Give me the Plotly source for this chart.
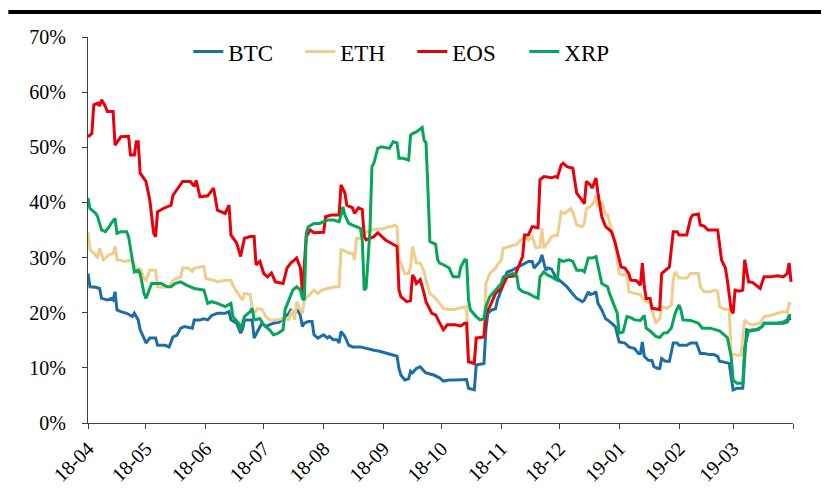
import pandas as pd
import plotly.graph_objects as go

# ---------------- data (days since 2018-04-01, volatility in %) ----------------
btc_days = [0,1,4,6,7,10,12,13,14,15,17,20,23,24,26,27,29,30,32,35,36,40,42,44,46,48,50,54,55,58,60,62,64,67,71,73,74,77,79,80,81,85,86,88,90,92,96,99,101,104,105,107,109,110,111,112,114,116,117,119,122,124,125,127,129,130,131,133,135,137,141,144,148,151,155,158,160,161,162,164,166,167,168,170,172,174,175,179,182,184,187,190,193,196,197,200,201,203,205,206,207,209,211,212,214,216,217,219,223,225,228,230,231,234,235,237,238,240,242,244,245,248,250,253,256,257,259,260,262,263,264,266,268,269,271,273,275,278,280,283,285,286,287,288,290,292,293,295,296,297,299,301,303,305,306,310,312,315,317,319,322,324,326,327,331,332,333,334,336,339,340,341,343,346,349,350,353,357,360,362,363,364]
btc_vals = [27.1,24.7,24.6,24.4,22.6,22.3,22.6,22.3,23.8,20.5,20.2,19.9,19.3,19.9,18.7,16.9,15.4,14.5,15.4,15.4,14.1,14.1,13.8,15.6,15.9,17.2,17.5,17.2,18.7,18.7,18.9,18.7,19.5,19.9,19.9,20.2,18.7,18.1,16.3,17.0,18.7,18.7,15.4,16.9,18.1,17.5,18.1,18.3,18.9,19.9,20.5,19.9,20.5,19.3,17.5,18.1,18.4,18.4,16.0,15.4,16.0,15.4,15.7,15.1,15.1,14.5,16.6,15.7,14.1,13.8,13.8,13.5,13.2,13.0,12.6,12.4,12.1,9.9,8.7,7.8,8.0,9.4,9.1,9.9,10.2,9.4,9.1,8.7,8.2,7.6,7.8,7.8,7.8,7.9,6.3,6.0,10.5,10.6,10.8,16.9,19.9,20.5,20.7,22.3,24.1,26.5,27.4,27.6,28.3,28.7,29.3,29.3,28.1,29.3,30.5,27.7,28.1,27.9,26.5,25.9,25.6,24.7,23.8,22.6,22.0,22.3,23.8,23.3,23.5,23.8,21.7,20.5,18.9,18.7,18.1,17.5,14.7,14.5,13.8,13.5,12.6,12.6,14.7,12.1,11.4,11.3,10.2,9.9,9.9,11.7,11.2,11.2,14.5,14.5,14.1,14.1,14.5,14.5,12.6,12.6,12.4,12.4,12.1,11.2,10.9,10.8,8.4,6.0,6.3,6.3,12.0,16.9,16.7,16.9,17.5,18.1,18.1,18.1,18.1,18.3,18.9,19.0]

eth_days = [0,1,3,5,6,8,11,13,14,15,19,23,24,26,27,29,30,32,35,36,38,42,44,48,49,52,54,55,60,61,65,67,71,74,75,77,80,81,84,85,86,88,90,92,94,98,100,104,105,106,107,108,109,111,112,115,117,119,121,124,128,130,131,133,135,137,138,139,141,143,144,147,149,153,155,157,159,160,161,162,164,166,167,168,169,170,172,174,175,177,180,182,184,187,190,192,195,196,197,200,201,205,206,208,211,212,214,215,217,219,222,224,226,228,230,232,234,235,236,238,240,242,243,245,247,250,251,253,256,257,258,260,262,263,264,266,268,269,271,273,275,277,279,280,283,286,288,291,293,294,296,297,300,302,303,304,306,310,312,316,317,319,322,325,326,327,330,332,333,336,338,339,340,342,344,348,350,353,357,360,362,363,364]
eth_vals = [34.7,31.4,30.8,29.9,31.7,29.6,30.5,30.8,32.0,29.6,29.3,29.6,28.6,27.1,28.1,26.2,25.9,27.7,27.7,24.7,24.6,24.7,25.9,26.5,28.1,28.1,27.5,28.1,28.4,26.2,25.9,25.6,25.9,25.9,25.0,23.8,22.3,23.5,23.3,20.8,19.9,20.8,20.6,19.3,18.7,18.7,18.9,18.8,19.9,20.5,18.7,22.0,21.1,19.9,22.3,23.5,24.1,23.5,24.1,24.4,24.7,24.7,31.4,31.2,30.8,30.8,29.6,33.5,33.5,34.1,34.7,35.0,35.2,35.2,35.6,35.6,35.9,35.6,29.6,29.0,27.1,27.1,28.3,32.0,30.2,29.0,29.0,27.5,25.9,23.5,22.6,21.7,20.8,20.6,20.6,20.8,21.1,21.1,11.3,11.0,15.5,15.7,25.3,27.1,28.1,28.7,29.6,31.7,31.9,32.1,32.4,33.2,33.8,33.2,33.8,31.7,31.9,35.3,31.7,32.7,33.8,34.1,33.8,38.3,38.0,38.9,38.3,35.9,35.6,36.2,38.9,39.2,40.1,41.3,39.2,40.1,37.7,37.7,35.3,32.6,27.1,26.8,27.1,23.8,23.5,23.3,22.3,21.7,19.3,18.1,18.9,21.1,20.8,21.4,25.9,27.4,26.3,26.3,27.1,27.1,24.7,23.8,23.8,24.1,23.8,21.1,20.6,20.6,12.6,12.3,12.3,15.7,18.7,18.0,17.8,18.1,19.3,19.5,19.9,20.2,20.0,21.7,21.5]

eos_days = [0,2,3,5,6,7,9,10,13,14,17,21,22,24,25,26,27,30,32,34,35,36,39,43,44,46,49,53,55,56,58,62,65,67,71,73,74,77,79,81,84,86,87,89,91,93,95,97,101,103,105,108,110,111,113,115,117,122,123,126,130,131,133,134,137,138,140,142,143,144,148,150,154,157,160,161,162,165,167,168,169,170,172,174,175,178,180,182,184,186,190,193,195,196,197,200,201,205,206,208,211,214,217,221,223,225,226,228,230,233,234,236,240,242,243,245,246,248,251,253,255,257,258,260,261,263,264,266,268,271,273,276,278,280,281,284,286,287,288,289,291,292,296,297,299,301,303,305,306,310,312,313,316,317,319,321,326,328,330,331,333,334,335,337,339,340,342,344,348,350,353,357,360,362,363,364]
eos_vals = [51.9,52.5,57.7,58.0,57.5,58.6,57.4,56.5,56.5,50.4,51.9,52.0,48.6,48.6,51.0,51.0,45.3,43.8,40.4,34.4,33.8,38.3,38.9,39.5,41.3,42.3,43.8,43.8,42.9,44.0,41.0,41.2,42.6,38.6,38.0,39.5,34.1,32.6,30.2,33.5,33.8,33.8,28.7,29.3,27.1,26.5,27.2,25.6,25.3,28.1,29.0,29.9,28.1,23.5,33.8,35.0,34.5,34.6,37.4,37.7,37.7,43.2,41.7,39.5,39.0,38.0,39.0,38.7,33.8,33.2,33.8,34.5,33.2,32.6,32.0,24.1,22.9,22.0,22.2,26.8,26.3,25.3,26.0,23.5,22.0,19.9,19.6,18.2,16.9,17.8,17.8,17.6,18.1,18.1,11.1,10.8,15.4,15.6,19.9,21.1,23.5,24.4,26.5,26.7,28.3,30.2,34.1,34.1,35.6,35.4,44.1,44.7,44.5,44.7,44.5,46.8,47.1,46.5,46.2,41.7,40.8,39.8,43.8,43.2,42.6,44.4,41.7,37.4,35.6,34.7,32.6,28.3,28.1,27.1,25.9,25.8,25.0,29.0,24.8,22.6,22.6,20.8,20.6,27.1,27.7,28.3,34.7,34.7,34.1,34.1,37.1,37.7,37.9,35.9,35.7,35.0,35.0,29.6,28.1,25.9,20.5,19.9,24.1,23.9,24.1,29.6,25.6,25.5,24.4,26.5,26.5,26.7,26.5,27.1,29.0,25.6]

xrp_days = [0,1,4,5,7,9,11,12,14,15,17,20,21,23,24,26,27,29,30,31,33,38,41,43,45,48,51,55,60,62,64,67,71,74,75,78,79,81,84,85,86,89,91,94,96,98,101,102,105,106,108,110,111,112,113,114,117,120,122,124,127,130,131,132,133,135,137,141,142,143,144,145,146,147,148,150,152,156,158,160,161,163,166,167,168,170,172,173,174,175,176,177,180,181,182,184,187,189,192,193,195,196,197,198,201,203,205,206,208,211,212,214,215,217,220,222,223,225,228,231,233,234,236,238,240,243,244,246,249,251,253,256,257,259,261,263,265,266,269,270,272,274,275,277,279,281,283,286,288,289,291,294,296,298,300,302,304,306,307,308,312,316,318,322,327,331,333,334,336,339,340,342,344,347,349,350,353,357,360,362,363,364]
xrp_vals = [40.8,38.9,38.0,37.4,35.0,34.7,35.6,36.2,37.1,34.4,34.7,34.7,33.8,30.0,27.4,27.7,27.1,23.5,22.6,23.5,25.3,25.3,24.7,24.7,25.3,25.6,25.0,24.4,24.1,21.7,22.0,21.7,21.1,21.7,19.3,18.1,16.9,19.3,20.2,20.8,18.7,18.9,17.8,16.9,16.0,16.2,16.9,20.5,23.5,24.1,24.7,24.1,22.6,22.3,34.4,35.6,36.2,36.2,36.5,36.8,36.8,36.5,37.7,39.2,37.7,36.2,35.9,35.3,33.2,24.1,24.5,29.0,35.0,46.5,47.1,49.8,50.1,49.8,51.0,50.8,48.0,48.0,47.7,52.2,52.5,52.8,53.4,53.6,51.3,50.8,42.3,32.9,32.4,29.6,29.0,28.7,28.1,26.5,26.5,28.3,29.6,29.5,22.3,20.5,19.3,18.7,18.9,21.1,22.9,24.1,24.7,25.3,26.5,26.7,27.1,26.7,24.4,23.8,23.5,22.9,22.6,26.5,27.4,26.8,26.5,25.9,29.6,29.3,29.6,29.3,27.7,27.7,27.4,29.9,29.9,30.2,26.5,25.3,24.7,23.5,21.7,19.9,16.3,16.5,19.3,19.1,18.7,18.6,19.5,17.2,16.7,15.7,15.5,16.3,16.4,17.2,19.9,21.4,20.5,18.7,18.6,18.1,17.2,17.2,16.7,15.5,12.0,7.8,7.2,7.2,13.8,16.7,16.9,16.9,17.5,18.1,18.1,18.1,18.3,18.7,19.5,19.5]

start_date = "2018-04-01"
tick_dates = ["2018-04-01", "2018-05-01", "2018-06-01", "2018-07-01", "2018-08-01", "2018-09-01",
              "2018-10-01", "2018-11-01", "2018-12-01", "2019-01-01", "2019-02-01", "2019-03-01", "2019-04-01"]
tick_labels = ["18-04", "18-05", "18-06", "18-07", "18-08", "18-09",
               "18-10", "18-11", "18-12", "19-01", "19-02", "19-03", ""]
y_ticks = [0, 0.1, 0.2, 0.3, 0.4, 0.5, 0.6, 0.7]
y_labels = ["0%", "10%", "20%", "30%", "40%", "50%", "60%", "70%"]

series = [
    ("BTC", btc_days, btc_vals, "#1C6EA4"),
    ("ETH", eth_days, eth_vals, "#EFCE8C"),
    ("EOS", eos_days, eos_vals, "#E8000B"),
    ("XRP", xrp_days, xrp_vals, "#06A65A"),
]

base = pd.Timestamp(start_date)
FONT = "Liberation Serif"

fig = go.Figure()
for name, days, vals, color in series:
    x = [base + pd.Timedelta(days=d) for d in days]
    y = [v / 100 for v in vals]
    fig.add_trace(go.Scatter(x=x, y=y, mode="lines", name=name,
                             line=dict(color=color, width=3)))

# the page body has an 8px margin, so the figure is sized/offset to compensate
fig.update_layout(
    width=821, height=487,
    margin=dict(l=80, r=36, t=29, b=72, autoexpand=False),
    paper_bgcolor="white", plot_bgcolor="white",
    font=dict(family=FONT, color="black", size=20),
    showlegend=True,
    legend=dict(orientation="h", x=0.46, y=0.962, xanchor="center", yanchor="middle",
                font=dict(family=FONT, size=23, color="black"),
                bgcolor="rgba(0,0,0,0)", itemwidth=30,
                entrywidth=67, entrywidthmode="pixels"),
    shapes=[dict(type="line", xref="paper", yref="paper", x0=-0.113, x1=1.06,
                 y0=1.065, y1=1.065, line=dict(color="black", width=4))],
)
fig.update_xaxes(
    type="date", range=[tick_dates[0], tick_dates[-1]], automargin=False,
    tickmode="array", tickvals=tick_dates, ticktext=tick_labels,
    tickangle=-45, ticks="outside", ticklen=5, tickwidth=1, tickcolor="#404040",
    showline=True, linecolor="#404040", linewidth=1, showgrid=False, zeroline=False,
    tickfont=dict(family=FONT, size=20, color="black"),
)
fig.update_yaxes(
    range=[0, 0.7], tickmode="array", tickvals=y_ticks, ticktext=y_labels, automargin=False,
    ticks="outside", ticklen=5, tickwidth=1, tickcolor="#404040",
    showline=True, linecolor="#404040", linewidth=1, showgrid=False, zeroline=False,
    tickfont=dict(family=FONT, size=20, color="black"),
    ticklabelstandoff=12,
)

fig.write_html("out.html")
